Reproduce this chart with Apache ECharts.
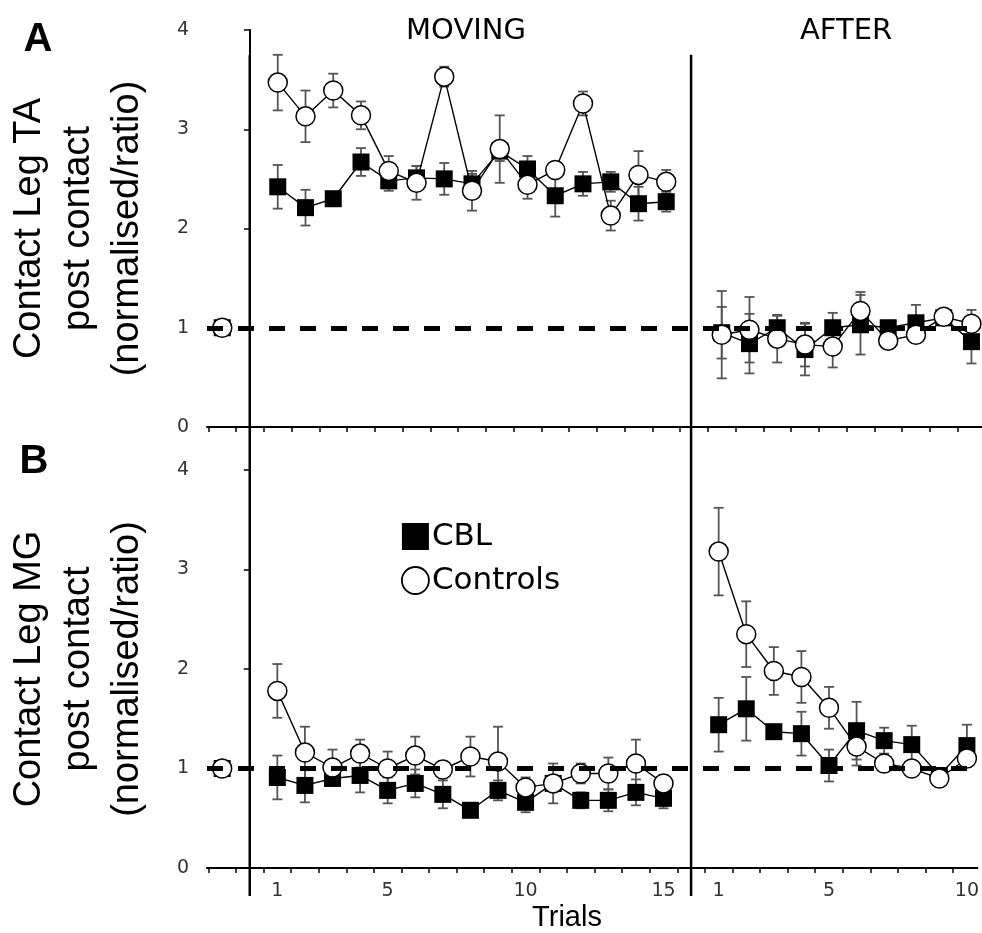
<!DOCTYPE html>
<html>
<head>
<meta charset="utf-8">
<title>Contact leg TA / MG</title>
<script src="https://cdn.jsdelivr.net/npm/echarts@6/dist/echarts.min.js"></script>
<style>
  html, body { margin: 0; padding: 0; background: #fff; }
  #chart { width: 982px; height: 933px; }
</style>
</head>
<body>
<div id="chart"></div>
<script>
// trials
const movingTrials = [1, 2, 3, 4, 5, 6, 7, 8, 9, 10, 11, 12, 13, 14, 15]
const afterTrials = [1, 2, 3, 4, 5, 6, 7, 8, 9, 10]
const baselineTrial = [-1]
const baselineValue = [1]
const afterOffset = 16 // after block is drawn right of the moving block

const movingTickLabels = [1, 5, 10, 15]
const afterTickLabels = [1, 5, 10]

// A: Contact Leg TA
const taCblMoving = [2.42, 2.21, 2.30, 2.67, 2.48, 2.51, 2.50, 2.45, 2.78, 2.60, 2.33, 2.45, 2.47, 2.25, 2.27]
const taCblMovingErr = [0.22, 0.18, 0.05, 0.14, 0.10, 0.12, 0.16, 0.10, 0.10, 0.13, 0.21, 0.12, 0.10, 0.17, 0.10]
const taCtlMoving = [3.47, 3.13, 3.39, 3.14, 2.58, 2.46, 3.53, 2.38, 2.80, 2.44, 2.59, 3.26, 2.13, 2.54, 2.47]
const taCtlMovingErr = [0.28, 0.26, 0.17, 0.14, 0.15, 0.17, 0.10, 0.20, 0.34, 0.14, 0.08, 0.12, 0.15, 0.24, 0.12]
const taCblAfter = [0.95, 0.84, 1.00, 0.78, 1.00, 1.03, 1.00, 1.05, 1.10, 0.86]
const taCblAfterErr = [0.26, 0.30, 0.12, 0.26, 0.15, 0.30, 0.07, 0.18, 0.05, 0.22]
const taCtlAfter = [0.93, 0.98, 0.89, 0.83, 0.81, 1.17, 0.87, 0.93, 1.11, 1.04]
const taCtlAfterErr = [0.44, 0.33, 0.24, 0.22, 0.21, 0.19, 0.05, 0.05, 0.04, 0.14]

// B: Contact Leg MG
const mgCblMoving = [0.91, 0.83, 0.90, 0.93, 0.78, 0.85, 0.74, 0.58, 0.78, 0.66, 0.85, 0.68, 0.68, 0.76, 0.70]
const mgCblMovingErr = [0.22, 0.17, 0.05, 0.17, 0.13, 0.14, 0.14, 0.04, 0.10, 0.10, 0.20, 0.08, 0.11, 0.13, 0.10]
const mgCtlMoving = [1.78, 1.16, 1.01, 1.15, 1.00, 1.13, 0.99, 1.12, 1.07, 0.81, 0.85, 0.95, 0.95, 1.05, 0.85]
const mgCtlMovingErr = [0.27, 0.26, 0.18, 0.14, 0.17, 0.19, 0.08, 0.20, 0.35, 0.10, 0.05, 0.10, 0.16, 0.24, 0.08]
const mgCblAfter = [1.44, 1.60, 1.37, 1.35, 1.03, 1.38, 1.28, 1.24, 0.93, 1.23]
const mgCblAfterErr = [0.27, 0.32, 0.05, 0.22, 0.16, 0.29, 0.13, 0.19, 0.05, 0.21]
const mgCtlAfter = [3.18, 2.35, 1.98, 1.92, 1.61, 1.22, 1.05, 1.00, 0.90, 1.10]
const mgCtlAfterErr = [0.44, 0.33, 0.24, 0.26, 0.21, 0.19, 0.06, 0.06, 0.04, 0.08]

const X_MIN = -1.55
const X_MAX = 26.38
const SANS = 'DejaVu Sans'
const ARIAL = 'Liberation Sans'

// minor ticks sit between trials
const tickValues = []
for (let v = -1.5; v < X_MAX; v += 1) tickValues.push(v)
const labelValues = movingTickLabels.concat(afterTickLabels.map(t => t + afterOffset))

function pairs(trials, offset, values) {
  return trials.map((t, i) => [t + offset, values[i]])
}
function errPairs(trials, offset, values, errs) {
  return trials.map((t, i) => [t + offset, values[i], errs[i]])
}

function renderErrorBar(params, api) {
  const x = api.value(0)
  const y = api.value(1)
  const e = api.value(2)
  const top = api.coord([x, y + e])
  const bot = api.coord([x, y - e])
  const half = 5
  const style = { stroke: '#555', lineWidth: 1.8 }
  return {
    type: 'group',
    children: [
      { type: 'line', shape: { x1: top[0], y1: top[1], x2: bot[0], y2: bot[1] }, style: style },
      { type: 'line', shape: { x1: top[0] - half, y1: top[1], x2: top[0] + half, y2: top[1] }, style: style },
      { type: 'line', shape: { x1: bot[0] - half, y1: bot[1], x2: bot[0] + half, y2: bot[1] }, style: style }
    ]
  }
}

const cblStyle = {
  name: 'CBL',
  symbol: 'rect',
  symbolSize: 17,
  color: '#000',
  itemStyle: { color: '#000', borderColor: '#000', borderWidth: 0 },
  z: 3
}
const ctlStyle = {
  name: 'Controls',
  symbol: 'circle',
  symbolSize: 19,
  color: '#fff',
  itemStyle: { color: '#fff', borderColor: '#000', borderWidth: 1.5 },
  z: 4
}

function lineSeries(style, panel, data) {
  return Object.assign({}, style, {
    type: 'line',
    xAxisIndex: panel,
    yAxisIndex: panel,
    data: data,
    showSymbol: true,
    lineStyle: { color: '#000', width: 1.4 },
    emphasis: { disabled: true }
  })
}
function errSeries(panel, data) {
  return {
    type: 'custom',
    xAxisIndex: panel,
    yAxisIndex: panel,
    renderItem: renderErrorBar,
    encode: { x: 0, y: 1 },
    data: data,
    z: 2,
    silent: true
  }
}
function refLine(panel) {
  return {
    type: 'line',
    xAxisIndex: panel,
    yAxisIndex: panel,
    data: [],
    z: 1,
    silent: true,
    markLine: {
      silent: true,
      symbol: 'none',
      label: { show: false },
      lineStyle: { color: '#000', width: 5, type: [16, 15] },
      data: [{ yAxis: 1 }]
    }
  }
}

function panelSeries(panel, cblMov, cblMovErr, ctlMov, ctlMovErr, cblAft, cblAftErr, ctlAft, ctlAftErr) {
  return [
    lineSeries(cblStyle, panel, pairs(baselineTrial, 0, baselineValue)),
    lineSeries(cblStyle, panel, pairs(movingTrials, 0, cblMov)),
    lineSeries(cblStyle, panel, pairs(afterTrials, afterOffset, cblAft)),
    lineSeries(ctlStyle, panel, pairs(baselineTrial, 0, baselineValue)),
    lineSeries(ctlStyle, panel, pairs(movingTrials, 0, ctlMov)),
    lineSeries(ctlStyle, panel, pairs(afterTrials, afterOffset, ctlAft)),
    refLine(panel),
    errSeries(panel, errPairs(movingTrials, 0, cblMov, cblMovErr)),
    errSeries(panel, errPairs(movingTrials, 0, ctlMov, ctlMovErr)),
    errSeries(panel, errPairs(afterTrials, afterOffset, cblAft, cblAftErr)),
    errSeries(panel, errPairs(afterTrials, afterOffset, ctlAft, ctlAftErr))
  ]
}

function xAxisFor(panel, withLabels) {
  return {
    type: 'value',
    gridIndex: panel,
    min: X_MIN,
    max: X_MAX,
    splitLine: { show: false },
    axisLine: { onZero: false, lineStyle: { color: '#000', width: 2 } },
    axisTick: { show: true, customValues: tickValues, length: 5, lineStyle: { color: '#000', width: 1.5 } },
    axisLabel: {
      show: withLabels,
      customValues: labelValues,
      margin: 14,
      fontFamily: SANS,
      fontSize: 19,
      color: '#333',
      formatter: v => String(v > afterOffset ? v - afterOffset : v)
    }
  }
}
function yAxisFor(panel) {
  return {
    type: 'value',
    gridIndex: panel,
    min: 0,
    max: 4,
    interval: 1,
    splitLine: { show: false },
    axisLine: { lineStyle: { color: '#000', width: 2 } },
    axisTick: { length: 6, lineStyle: { color: '#000', width: 1.5 } },
    axisLabel: { margin: 18, fontFamily: SANS, fontSize: 19, color: '#333' }
  }
}

const chartDom = echarts.init(document.getElementById('chart'))
const option = {
  animation: false,
  backgroundColor: '#fff',
  grid: [
    { left: 207, right: 0, top: 30, height: 397 },
    { left: 207, right: 0, top: 470, height: 398 }
  ],
  xAxis: [xAxisFor(0, false), xAxisFor(1, true)],
  yAxis: [yAxisFor(0), yAxisFor(1)],
  legend: {
    left: 396,
    top: 516,
    orient: 'vertical',
    itemWidth: 27,
    itemHeight: 27,
    itemGap: 13,
    selectedMode: false,
    textStyle: { fontFamily: SANS, fontSize: 31, color: '#000', padding: [0, 0, 0, -2] },
    data: [
      { name: 'CBL', icon: 'rect', itemStyle: { color: '#000', borderWidth: 0 } },
      { name: 'Controls', icon: 'circle', itemStyle: { color: '#fff', borderColor: '#000', borderWidth: 1.8 } }
    ]
  },
  series: panelSeries(0, taCblMoving, taCblMovingErr, taCtlMoving, taCtlMovingErr,
    taCblAfter, taCblAfterErr, taCtlAfter, taCtlAfterErr)
    .concat(panelSeries(1, mgCblMoving, mgCblMovingErr, mgCtlMoving, mgCtlMovingErr,
      mgCblAfter, mgCblAfterErr, mgCtlAfter, mgCtlAfterErr))
}
chartDom.setOption(option)

// block separators and text, placed from the axes
const sepTop = chartDom.convertToPixel({ yAxisIndex: 0 }, 3.75)
const sepBottom = chartDom.convertToPixel({ yAxisIndex: 1 }, 0) + 28
const sepX = [0, afterOffset].map(v => chartDom.convertToPixel({ xAxisIndex: 1 }, v))
const midA = (chartDom.convertToPixel({ yAxisIndex: 0 }, 0) + chartDom.convertToPixel({ yAxisIndex: 0 }, 4)) / 2
const midB = (chartDom.convertToPixel({ yAxisIndex: 1 }, 0) + chartDom.convertToPixel({ yAxisIndex: 1 }, 4)) / 2

function axisTitle(lines, cy) {
  return lines.map((t, i) => ({
    type: 'text',
    x: 30 + i * 49,
    y: cy,
    rotation: Math.PI / 2,
    style: { text: t, font: '38px "' + ARIAL + '"', fill: '#000', align: 'center', verticalAlign: 'middle' }
  }))
}

const graphics = sepX.map(x => ({
  type: 'line',
  shape: { x1: x, y1: sepTop, x2: x, y2: sepBottom },
  style: { stroke: '#000', lineWidth: 2.5 },
  z: 10
})).concat([
  { type: 'text', x: 466, y: 31, style: { text: 'MOVING', font: '29px "' + SANS + '"', fill: '#000', align: 'center', verticalAlign: 'middle' } },
  { type: 'text', x: 846, y: 31, style: { text: 'AFTER', font: '29px "' + SANS + '"', fill: '#000', align: 'center', verticalAlign: 'middle' } },
  { type: 'text', x: 38, y: 40, style: { text: 'A', font: 'bold 40px "' + ARIAL + '"', fill: '#000', align: 'center', verticalAlign: 'middle' } },
  { type: 'text', x: 34, y: 462, style: { text: 'B', font: 'bold 40px "' + ARIAL + '"', fill: '#000', align: 'center', verticalAlign: 'middle' } },
  { type: 'text', x: 567, y: 918, style: { text: 'Trials', font: '29px "' + ARIAL + '"', fill: '#000', align: 'center', verticalAlign: 'middle' } }
]).concat(axisTitle(['Contact Leg TA', 'post contact', '(normalised/ratio)'], midA))
  .concat(axisTitle(['Contact Leg MG', 'post contact', '(normalised/ratio)'], midB))

chartDom.setOption({ graphic: graphics })
</script>
</body>
</html>
